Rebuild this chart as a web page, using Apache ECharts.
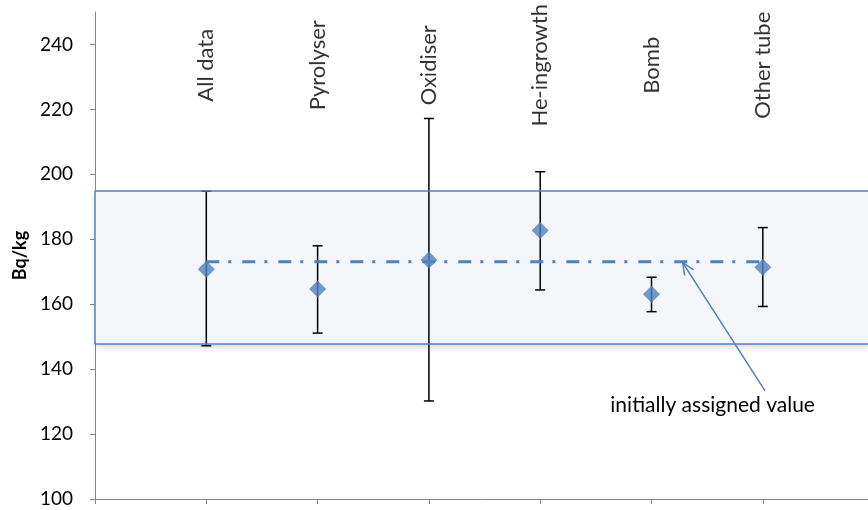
<!DOCTYPE html>
<html>
<head>
<meta charset="utf-8">
<script src="https://cdn.jsdelivr.net/npm/echarts@6/dist/echarts.min.js"></script>
<style>
  html, body { margin: 0; padding: 0; background: #fff; }
  #chart { width: 868px; height: 510px; }
</style>
</head>
<body>
<div id="chart"></div>
<script>
// values
const categories = ['All data', 'Pyrolyser', 'Oxidiser', 'He-ingrowth', 'Bomb', 'Other tube'];
const means = [170.8, 164.7, 173.6, 182.7, 163.1, 171.4];
const lowers = [147.2, 151.1, 130.2, 164.4, 157.7, 159.3];
const uppers = [194.8, 178.0, 217.2, 200.8, 168.3, 183.6];
const assignedValue = 173.1;
const bandLow = 147.7;
const bandHigh = 194.9;
const yTicks = [100, 120, 140, 160, 180, 200, 220, 240];
const xTicks = [0, 1, 2, 3, 4, 5, 6];
const labelLevel = 233.6;

const blue = '#4f81bd';
const font = 'Lato';

const chart = echarts.init(document.getElementById('chart'));

const option = {
  animation: false,
  grid: { left: 95, right: 0, top: 12, bottom: 11 },
  xAxis: {
    type: 'value',
    min: 0,
    max: 6.945,
    interval: 1,
    splitLine: { show: false },
    axisLine: { lineStyle: { color: '#868686', width: 1 } },
    axisTick: { show: true, length: 5, customValues: xTicks, lineStyle: { color: '#868686' } },
    axisLabel: { show: false }
  },
  yAxis: {
    type: 'value',
    min: 100,
    max: 250,
    interval: 20,
    name: 'Bq/kg',
    nameLocation: 'middle',
    nameGap: 64,
    nameRotate: 90,
    nameTextStyle: { fontFamily: font, fontSize: 18, fontWeight: 'bold', color: '#000' },
    splitLine: { show: false },
    axisLine: { show: true, lineStyle: { color: '#868686', width: 1 } },
    axisTick: { show: true, length: 5, customValues: yTicks, lineStyle: { color: '#868686' } },
    axisLabel: { customValues: yTicks, margin: 22, fontFamily: font, fontSize: 19, color: '#000' }
  },
  series: [
    {
      // shaded band, runs off the right edge (only top/bottom/left edges drawn)
      name: 'band',
      type: 'line',
      data: [],
      z: 0,
      markArea: {
        silent: true,
        itemStyle: {
          color: '#f4f6f9',
          borderWidth: 0,
          shadowColor: 'rgba(0,0,0,0.16)',
          shadowBlur: 6,
          shadowOffsetY: 3
        },
        data: [[{ xAxis: 0, yAxis: bandLow }, { xAxis: 'max', yAxis: bandHigh }]]
      },
      markLine: {
        silent: true,
        symbol: 'none',
        label: { show: false },
        lineStyle: { color: blue, width: 1.5, type: 'solid' },
        data: [
          { yAxis: bandLow },
          { yAxis: bandHigh },
          [{ coord: [0, bandLow] }, { coord: [0, bandHigh] }]
        ]
      }
    },
    {
      name: 'error',
      type: 'custom',
      z: 2,
      data: categories.map((c, i) => [i + 1, lowers[i], uppers[i]]),
      renderItem: function (params, api) {
        const x = api.value(0);
        const lo = api.coord([x, api.value(1)]);
        const hi = api.coord([x, api.value(2)]);
        const half = 5;
        const style = { stroke: '#000', lineWidth: 1.5 };
        return {
          type: 'group',
          children: [
            { type: 'line', shape: { x1: lo[0], y1: lo[1], x2: hi[0], y2: hi[1] }, style: style },
            { type: 'line', shape: { x1: lo[0] - half, y1: lo[1], x2: lo[0] + half, y2: lo[1] }, style: style },
            { type: 'line', shape: { x1: hi[0] - half, y1: hi[1], x2: hi[0] + half, y2: hi[1] }, style: style }
          ]
        };
      }
    },
    {
      name: 'assigned',
      type: 'line',
      z: 3,
      symbol: 'none',
      data: [[1, assignedValue], [categories.length, assignedValue]],
      lineStyle: { color: blue, width: 3, type: [13, 9, 3, 11] }
    },
    {
      name: 'mean',
      type: 'scatter',
      z: 4,
      symbol: 'diamond',
      symbolSize: 17,
      itemStyle: { color: blue },
      data: categories.map((c, i) => [i + 1, means[i]])
    },
    {
      name: 'labels',
      type: 'scatter',
      z: 5,
      silent: true,
      symbolSize: 0,
      data: categories.map((c, i) => [i + 1, labelLevel, c]),
      label: {
        show: true,
        position: 'inside',
        rotate: 90,
        formatter: function (p) { return p.data[2]; },
        fontFamily: font,
        fontSize: 22,
        color: '#000'
      }
    }
  ]
};

chart.setOption(option);

// annotation with arrow, anchored in data units
const tip = chart.convertToPixel({ gridIndex: 0 }, [5.28, 172.8]);
const tail = chart.convertToPixel({ gridIndex: 0 }, [6.02, 133.3]);
const textPos = chart.convertToPixel({ gridIndex: 0 }, [4.63, 129.0]);
const ang = Math.atan2(tail[1] - tip[1], tail[0] - tip[0]);
const headLen = 13;
const spread = 0.42;
const arrowStyle = { stroke: blue, lineWidth: 1.5, fill: null };

chart.setOption({
  graphic: [
    { type: 'line', shape: { x1: tail[0], y1: tail[1], x2: tip[0], y2: tip[1] }, style: arrowStyle, z: 10 },
    {
      type: 'polyline',
      shape: {
        points: [
          [tip[0] + headLen * Math.cos(ang - spread), tip[1] + headLen * Math.sin(ang - spread)],
          [tip[0], tip[1]],
          [tip[0] + headLen * Math.cos(ang + spread), tip[1] + headLen * Math.sin(ang + spread)]
        ]
      },
      style: arrowStyle,
      z: 10
    },
    {
      type: 'text',
      x: textPos[0],
      y: textPos[1],
      style: {
        text: 'initially assigned value',
        fontFamily: font,
        fontSize: 21,
        fill: '#000',
        verticalAlign: 'middle',
        align: 'left'
      },
      z: 10
    }
  ]
});
</script>
</body>
</html>
